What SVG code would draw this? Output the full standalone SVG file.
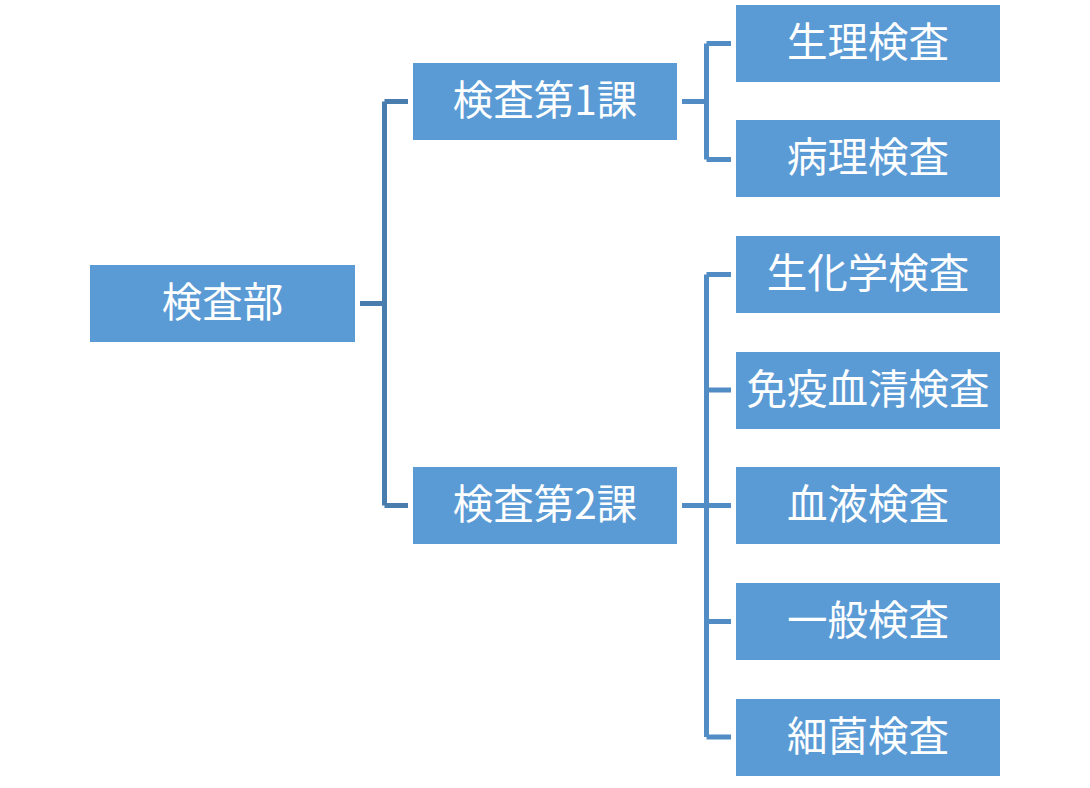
<svg xmlns="http://www.w3.org/2000/svg" width="1090" height="788" viewBox="0 0 1090 788">
<style>
.box{fill:#5b9bd5}
.t{fill:#ffffff;font-family:"Noto Sans CJK JP","Noto Sans",sans-serif;font-size:40.5px;text-anchor:middle;dominant-baseline:central}
.c1{fill:none;stroke:#497dad;stroke-width:5}
.c2{fill:none;stroke:#528cc4;stroke-width:5}
</style>
<rect width="1090" height="788" fill="#ffffff"/>
<g id="connectors">
<path class="c1" d="M360,303.5 H384.5 M384.5,101.5 V505.5 M384.5,101.5 H408 M384.5,505.5 H408"/>
<path class="c2" d="M682,101.5 H706.5 M706.5,43.5 V159.5 M706.5,43.5 H731 M706.5,159.5 H731"/>
<path class="c2" d="M682,505.5 H731 M706.5,274.5 V737 M706.5,274.5 H731 M706.5,390 H731 M706.5,621.5 H731 M706.5,737 H731"/>
</g>
<g id="n0"><rect class="box" x="90" y="265" width="265" height="77"/><text class="t" x="222.5" y="299.5">検査部</text></g>
<g id="n1"><rect class="box" x="413" y="63" width="264" height="77"/><text class="t" x="545" y="97.5">検査第1課</text></g>
<g id="n2"><rect class="box" x="413" y="467" width="264" height="77"/><text class="t" x="545" y="501.5">検査第2課</text></g>
<g id="n3"><rect class="box" x="736" y="5" width="264" height="77"/><text class="t" x="868" y="39.5">生理検査</text></g>
<g id="n4"><rect class="box" x="736" y="120" width="264" height="77"/><text class="t" x="868" y="154.5">病理検査</text></g>
<g id="n5"><rect class="box" x="736" y="236" width="264" height="77"/><text class="t" x="868" y="270.5">生化学検査</text></g>
<g id="n6"><rect class="box" x="736" y="352" width="264" height="77"/><text class="t" x="868" y="386.5">免疫血清検査</text></g>
<g id="n7"><rect class="box" x="736" y="467" width="264" height="77"/><text class="t" x="868" y="501.5">血液検査</text></g>
<g id="n8"><rect class="box" x="736" y="583" width="264" height="77"/><text class="t" x="868" y="617.5">一般検査</text></g>
<g id="n9"><rect class="box" x="736" y="699" width="264" height="77"/><text class="t" x="868" y="733.5">細菌検査</text></g>
</svg>
